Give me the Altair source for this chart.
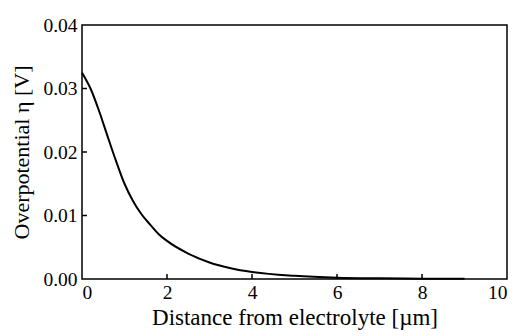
import altair as alt
import pandas as pd

distance = [0, 0.2, 0.4, 0.6, 0.8, 1.0, 1.2, 1.4, 1.6, 1.8, 2.0, 2.5, 3.0, 3.5, 4.0, 5.0, 6.0, 7.0, 8.0, 9.0]
eta = [0.0325, 0.0300, 0.0265, 0.0225, 0.0186, 0.0150, 0.0123, 0.0102, 0.0086, 0.0071, 0.0060,
       0.0040, 0.0026, 0.0017, 0.0011, 0.0005, 0.0002, 0.0001, 0.00005, 0.00002]
x_ticks = [2, 4, 6, 8]
y_ticks = [0.01, 0.02, 0.03]

df = pd.DataFrame({"x": distance, "y": eta})
W, H = 425, 254
FONT = "Liberation Serif"

xs = alt.Scale(domain=[0, 10], nice=False)
ys = alt.Scale(domain=[0, 0.04], nice=False)

line = alt.Chart(df).mark_line(color="black", strokeWidth=2, interpolate="monotone").encode(
    x=alt.X("x:Q", scale=xs, title="Distance from electrolyte [µm]",
            axis=alt.Axis(values=[0, 2, 4, 6, 8, 10], format="d", ticks=False, grid=False,
                          domain=False, labelPadding=4, titlePadding=5,
                          labelFont=FONT, titleFont=FONT, labelFontSize=19.5, titleFontSize=23)),
    y=alt.Y("y:Q", scale=ys, title="Overpotential η [V]",
            axis=alt.Axis(values=[0, 0.01, 0.02, 0.03, 0.04], format=".2f", ticks=False,
                          grid=False, domain=False, labelPadding=5, titlePadding=9,
                          labelFont=FONT, titleFont=FONT, labelFontSize=19.5, titleFontSize=22)),
)

xt = alt.Chart(pd.DataFrame({"t": x_ticks})).mark_rule(color="black", strokeWidth=1.5).encode(
    x=alt.X("t:Q", scale=xs), y=alt.value(H), y2=alt.value(H - 5))
yt = alt.Chart(pd.DataFrame({"t": y_ticks})).mark_rule(color="black", strokeWidth=1.5).encode(
    y=alt.Y("t:Q", scale=ys), x=alt.value(0), x2=alt.value(5))

chart = alt.layer(line, xt, yt).properties(
    width=W, height=H,
    autosize=alt.AutoSizeParams(type="none"),
    padding={"left": 82, "top": 25, "right": 12, "bottom": 57},
    background="white",
).configure_view(stroke="black", strokeWidth=1.5).configure_axis(
    labelColor="black", titleColor="black", titleFontWeight="normal",
)

chart.save("out.html", embed_options={"renderer": "svg", "actions": False})
